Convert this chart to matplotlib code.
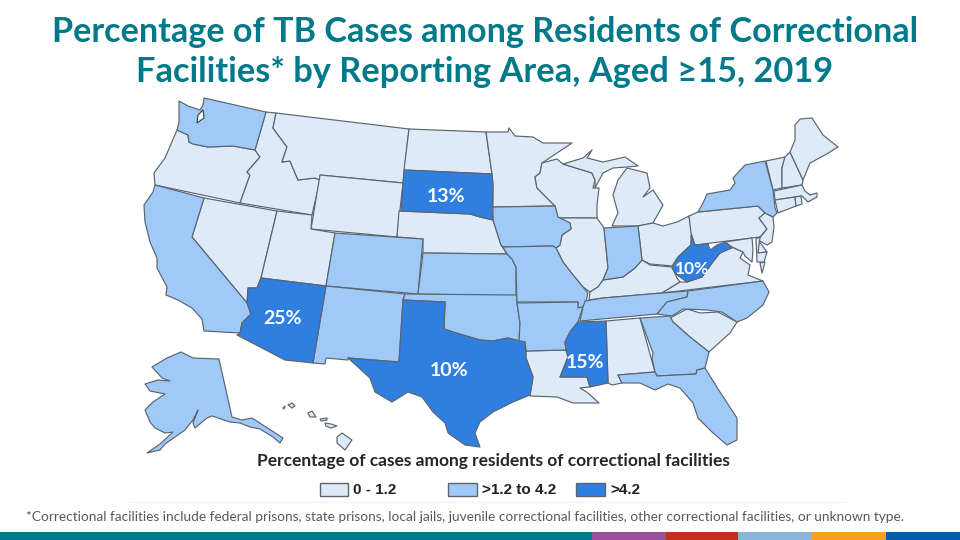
import matplotlib
matplotlib.use("Agg")
import matplotlib.pyplot as plt
from matplotlib.patches import Polygon, Rectangle

plt.rcParams['font.family'] = ['Lato', 'DejaVu Sans']

# ---- data -------------------------------------------------------------
title_lines = ["Percentage of TB Cases among Residents of Correctional",
               "Facilities* by Reporting Area, Aged \u226515, 2019"]
legend_title = "Percentage of cases among residents of correctional facilities"
footnote = ("*Correctional facilities include federal prisons, state prisons, local jails, "
            "juvenile correctional facilities, other correctional facilities, or unknown type.")
bin_labels = ["0 - 1.2", ">1.2 to 4.2", ">4.2"]
bin_colors = ["#DEEAF7", "#9FC9F7", "#2F7FE0"]

low_states = ["OR", "NV", "ID", "MT", "WY", "UT", "NE", "ND", "MN", "WI", "IL", "MI", "MI_UP",
              "OH", "KY", "LA", "AL", "SC", "VA", "VA_ES", "PA", "NJ", "DE", "MD", "MD_ES",
              "VT", "NH", "ME", "MA", "CT", "RI", "HI1", "HI2", "HI3", "HI4", "HI5", "HI6"]
mid_states = ["WA", "CA", "AK", "CO", "NM", "KS", "OK", "IA", "MO", "AR", "IN", "TN", "NC",
              "GA", "FL", "NY"]
high_states = ["AZ", "TX", "SD", "MS", "WV"]

state_labels = ["13%", "25%", "10%", "15%", "10%"]
label_states = ["SD", "AZ", "TX", "MS", "WV"]

band_colors = ["#007A8A", "#9B4F9B", "#C1301C", "#8AB4D8", "#F7A01D", "#005EAA"]
band_edges = [0, 592, 666, 738, 812, 886, 960]

# outlines, image pixel coordinates
outlines = {
 "WA": [(179,101),(188,106),(200,110),(203,105),(204,98),(266,112),(255,150),(233,146),(208,147),(193,144),(189,142),(188,135),(177,130),(179,122)],
 "OR": [(177,130),(188,135),(189,142),(193,144),(208,147),(233,146),(255,150),(260,157),(247,172),(250,175),(240,203),(155,185),(154,173),(165,158)],
 "CA": [(155,185),(204,198),(192,237),(247,303),(251,314),(242,323),(240,333),(204,331),(202,319),(192,308),(178,300),(166,295),(167,287),(157,268),(157,258),(150,242),(145,222),(144,205),(153,192)],
 "NV": [(204,198),(277,211),(261,278),(257,288),(248,288),(247,303),(192,237)],
 "ID": [(266,112),(276,113),(273,128),(287,147),(282,162),(290,161),(298,180),(315,178),(320,180),(312,215),(240,203),(250,175),(247,172),(260,157),(255,150)],
 "MT": [(276,113),(409,129),(403,183),(320,175),(320,180),(315,178),(298,180),(290,161),(282,162),(287,147),(273,128)],
 "WY": [(320,175),(403,183),(397,237),(311,229)],
 "UT": [(277,211),(312,215),(311,229),(335,233),(326,286),(261,278)],
 "CO": [(335,233),(423,239),(418,294),(326,286)],
 "AZ": [(261,278),(326,286),(313,363),(285,360),(237,335),(240,333),(242,323),(251,314),(247,303),(248,288),(257,288)],
 "NM": [(326,286),(405,294),(403,300),(399,362),(348,358),(348,360),(326,358),(325,364),(313,363)],
 "KS": [(423,253),(507,254),(512,259),(516,267),(516,296),(418,294)],
 "NE": [(399,211),(470,214),(480,217),(493,220),(501,245),(507,254),(423,253),(423,239),(397,237)],
 "SD": [(404,170),(492,174),(493,185),(492,212),(493,220),(480,217),(470,214),(401,211)],
 "ND": [(409,129),(486,132),(492,174),(404,170)],
 "MN": [(486,132),(508,132),(509,128),(515,136),(533,137),(543,143),(572,143),(542,163),(540,173),(535,177),(537,188),(555,206),(493,207),(493,185),(492,174)],
 "IA": [(493,207),(555,206),(558,217),(570,223),(571,229),(562,235),(560,245),(556,248),(553,246),(503,247),(501,245),(493,220)],
 "MO": [(503,247),(553,246),(556,248),(563,262),(573,275),(583,287),(588,293),(586,302),(583,307),(578,308),(578,302),(517,302),(516,267),(512,259),(507,254)],
 "OK": [(405,294),(517,295),(517,303),(520,323),(519,342),(508,338),(493,341),(480,340),(453,332),(444,329),(445,302),(403,300)],
 "TX": [(403,300),(445,302),(444,329),(453,332),(480,340),(493,341),(508,338),(525,342),(526,358),(533,377),(530,395),(513,402),(493,412),(480,422),(475,433),(480,447),(465,445),(448,433),(445,423),(433,412),(422,397),(408,392),(392,402),(375,392),(370,378),(348,358),(399,362)],
 "AR": [(517,303),(578,302),(578,308),(583,307),(578,322),(570,332),(565,342),(566,350),(526,351),(525,342),(519,342),(520,323)],
 "LA": [(526,351),(566,350),(568,357),(560,377),(587,377),(590,387),(580,388),(588,393),(599,403),(573,403),(557,397),(530,396),(533,377),(526,358)],
 "MS": [(578,322),(606,321),(608,383),(590,387),(587,377),(560,377),(568,357),(566,350),(565,342),(570,332)],
 "AL": [(606,321),(640,318),(655,372),(618,375),(622,383),(612,385),(608,383)],
 "GA": [(640,318),(670,316),(673,322),(690,337),(709,352),(705,368),(697,370),(696,374),(657,376),(655,372),(652,358),(653,353)],
 "FL": [(618,375),(655,372),(657,376),(696,374),(697,370),(705,368),(720,392),(737,418),(737,440),(727,445),(712,432),(698,418),(693,403),(680,388),(668,384),(655,390),(640,383),(622,383)],
 "SC": [(670,318),(687,309),(700,313),(718,312),(737,322),(730,333),(709,352),(690,337),(673,322)],
 "NC": [(688,291),(763,281),(769,292),(763,305),(747,318),(737,322),(722,312),(707,310),(683,309),(672,316),(657,314),(667,302),(687,297)],
 "TN": [(585,301),(603,298),(662,293),(688,291),(687,297),(667,302),(657,314),(580,321),(583,307)],
 "KY": [(590,292),(598,287),(603,280),(623,277),(635,268),(642,260),(650,265),(672,267),(677,278),(680,282),(662,293),(603,298),(589,300)],
 "VA": [(662,293),(680,282),(687,282),(702,277),(712,263),(720,253),(732,247),(743,252),(740,258),(750,265),(748,275),(763,281)],
 "VA_ES": [(765,262),(762,273),(760,263)],
 "WV": [(691,235),(695,245),(708,244),(710,250),(717,245),(725,242),(732,248),(720,253),(712,263),(702,277),(687,282),(677,275),(672,268),(678,257),(691,245)],
 "OH": [(638,226),(653,223),(663,226),(677,222),(689,216),(692,235),(691,245),(678,257),(672,266),(650,264),(642,260)],
 "IN": [(604,228),(638,226),(642,260),(635,268),(623,277),(603,280),(608,268)],
 "IL": [(558,218),(597,218),(604,228),(608,268),(603,280),(598,287),(590,292),(583,287),(573,275),(563,262),(556,248),(560,245),(562,235),(571,229),(570,223)],
 "WI": [(542,163),(557,159),(563,164),(592,173),(595,180),(593,188),(599,188),(597,205),(597,218),(558,218),(555,206),(537,188),(535,177),(540,173)],
 "MI": [(612,226),(618,213),(613,195),(618,180),(627,168),(647,173),(650,188),(643,197),(653,190),(663,205),(653,223),(638,226)],
 "MI_UP": [(563,164),(583,158),(592,150),(587,158),(603,162),(625,157),(638,166),(627,167),(613,168),(603,173),(595,188),(595,180),(592,173)],
 "PA": [(689,216),(698,212),(758,206),(765,213),(759,218),(767,229),(760,237),(695,245),(691,233)],
 "NY": [(698,212),(703,203),(707,194),(730,190),(735,183),(733,178),(745,165),(765,161),(773,190),(775,208),(777,213),(773,217),(765,213),(758,206)],
 "NJ": [(765,213),(773,217),(774,227),(772,242),(767,245),(758,240),(767,229),(759,218)],
 "DE": [(758,240),(762,245),(767,252),(758,253)],
 "MD": [(725,242),(752,238),(753,250),(752,262),(745,256),(743,252),(732,247)],
 "MD_ES": [(756,239),(760,237),(758,253),(767,252),(764,262),(757,262)],
 "VT": [(766,161),(785,157),(782,168),(782,188),(773,190)],
 "NH": [(785,157),(790,152),(803,180),(802,185),(782,188),(782,168)],
 "ME": [(790,152),(795,140),(795,125),(800,119),(812,118),(823,135),(838,147),(825,155),(810,163),(803,180)],
 "MA": [(774,191),(802,185),(805,191),(810,195),(817,193),(817,197),(808,202),(802,196),(775,200)],
 "CT": [(775,200),(795,197),(796,206),(778,213)],
 "RI": [(795,197),(801,196),(802,204),(796,206)],
 "AK": [(152,367),(167,358),(181,352),(193,358),(219,359),(232,417),(242,420),(252,418),(283,438),(280,443),(273,437),(260,429),(250,427),(240,423),(230,422),(212,416),(207,418),(195,428),(193,423),(198,410),(193,420),(185,430),(175,437),(165,444),(160,450),(147,453),(160,444),(173,432),(165,433),(155,428),(150,422),(145,410),(153,402),(165,394),(150,391),(145,384),(158,380),(170,381),(162,378)],
 "HI1": [(337,437),(342,433),(352,440),(345,450),(337,443)],
 "HI2": [(325,423),(331,424),(337,426),(331,428),(326,426)],
 "HI3": [(308,413),(312,411),(316,417),(310,417)],
 "HI4": [(288,405),(292,403),(295,406),(292,408)],
 "HI5": [(283,408),(285,406),(284,409)],
 "HI6": [(320,419),(327,418),(327,420),(321,421)],
}
water = [[(198,115),(203,110),(204,118),(197,123)]]
label_anchor = {"SD": (446,196), "AZ": (282,318), "TX": (449,370), "MS": (585,362), "WV": (692,269)}

# ---- drawing ----------------------------------------------------------
fig = plt.figure(figsize=(9.6, 5.4), dpi=100)
ax = fig.add_axes([0, 0, 1, 1])
ax.set_xlim(0, 960)
ax.set_ylim(540, 0)
ax.axis("off")

edge = "#5A6570"
for states, col in zip([low_states, mid_states, high_states], bin_colors):
    for s in states:
        ax.add_patch(Polygon(outlines[s], closed=True, facecolor=col,
                             edgecolor=edge, linewidth=0.85, joinstyle="round"))
for w in water:
    ax.add_patch(Polygon(w, closed=True, facecolor="white", edgecolor="#333B44", linewidth=0.8))

fig.canvas.draw()
rend = fig.canvas.get_renderer()

def fit(t, width):
    w = t.get_window_extent(rend).width
    t.set_fontsize(t.get_fontsize() * width / w)

teal = "#007A8A"
t1 = ax.text(485, 32, title_lines[0], color=teal, fontweight="bold", fontsize=24, ha="center", va="center")
fit(t1, 866)
t2 = ax.text(485, 72, title_lines[1], color=teal, fontweight="bold", fontsize=24, ha="center", va="center")
fit(t2, 698)

for s, lab in zip(label_states, state_labels):
    ax.text(*label_anchor[s], lab, color="white", fontweight="bold",
            fontsize=12.5 if s == "WV" else 14, ha="center", va="center")

lt = ax.text(493, 461, legend_title, color="#262626", fontweight="bold", fontsize=10.5, ha="center", va="center")
fit(lt, 473)

for lab, col, x0, w in zip(bin_labels, bin_colors, [320, 448, 576], [28, 29, 29]):
    ax.add_patch(Rectangle((x0, 483), w, 13, facecolor=col, edgecolor=edge, linewidth=1))
    ax.text(x0 + w + 5, 490.5, lab, family="Liberation Sans", fontweight="bold",
            fontsize=11, color="#222222", ha="left", va="center")

ax.plot([129, 845], [502, 502], color="#F3F3F3", linewidth=0.8)

fn = ax.text(26, 517, footnote, color="#595959", fontsize=9.5, ha="left", va="center")
fit(fn, 876)

for c, a, b in zip(band_colors, band_edges[:-1], band_edges[1:]):
    ax.add_patch(Rectangle((a, 532), b - a, 8, facecolor=c, edgecolor="none"))

fig.savefig("out.png", dpi=100)
